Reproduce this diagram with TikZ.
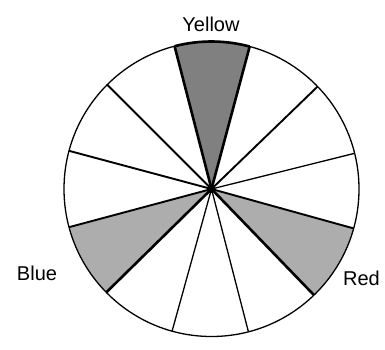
\documentclass[tikz,border=0pt]{standalone}
\usepackage{fontspec}
\setmainfont{Liberation Sans}
\usetikzlibrary{calc}
\begin{document}
\begin{tikzpicture}[x=1pt,y=1pt,
  thinline/.style={line width=1.3pt},
  thickline/.style={line width=2.6pt},
  medline/.style={line width=1.9pt},
  darkshade/.style={fill=black!50},
  lightshade/.style={fill=black!32},
  lab/.style={font=\fontsize{20}{24}\selectfont, inner sep=0pt, anchor=base}]
\useasboundingbox (0,0) rectangle (385,349);
\def\R{147.5}
\coordinate (c) at (211.5,160);
% rim points
\foreach \n/\a in {a/104.5,b/75,c2/44,d/14,e/-15.5,f/-46,g/-75.5,h/-105.5,i/-135.5,j/-165,k/165,l/135}{
  \coordinate (\n) at ($(c)+(\a:\R)$);
}
% shaded sectors
\fill[darkshade] (c) -- (b) arc[start angle=75,end angle=104.5,radius=\R] -- cycle;
\fill[lightshade] (c) -- (f) arc[start angle=-46,end angle=-15.5,radius=\R] -- cycle;
\fill[lightshade] (c) -- (j) arc[start angle=-165,end angle=-135.5,radius=\R] -- cycle;
% rim
\draw[thinline] (c) circle[radius=\R];
\draw[thickline] (b) arc[start angle=75,end angle=104.5,radius=\R];
% spokes
\draw[thickline] (c) -- (a);
\draw[thickline] (c) -- (b);
\draw[medline] (c) -- (c2);
\draw[thinline] (c) -- (d);
\draw[medline] (c) -- (e);
\draw[thickline] (c) -- (f);
\draw[thinline] (c) -- (g);
\draw[thinline] (c) -- (h);
\draw[thickline] (c) -- (i);
\draw[medline] (c) -- (j);
\draw[medline] (c) -- (k);
\draw[medline] (c) -- (l);
\fill (c) circle[radius=4];
% labels
\node[lab] (yellow) at (211,317.5) {Yellow};
\node[lab] (blue) at (37,68.5) {Blue};
\node[lab] (red) at (361.5,64) {Red};
\end{tikzpicture}
\end{document}
